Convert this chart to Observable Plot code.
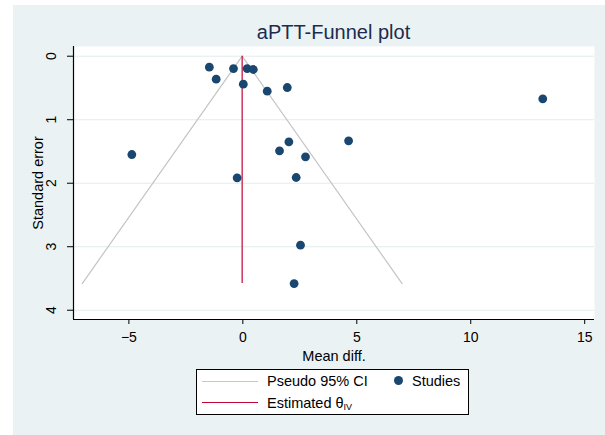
<!DOCTYPE html>
<html><head><meta charset="utf-8">
<script src="https://cdn.jsdelivr.net/npm/d3@7"></script>
<script src="https://cdn.jsdelivr.net/npm/@observablehq/plot@0.6"></script>
<style>
body{margin:0;background:#fff;font-family:"Liberation Sans",Arial,sans-serif;}
#page{position:relative;width:605px;height:435px;overflow:hidden;}
#bg{position:absolute;left:13px;top:5px;right:0;bottom:0;background:#EAF2F3;}
#title{position:relative;height:36px;}
#title span{position:absolute;left:73px;width:521px;text-align:center;top:22px;font-size:20px;line-height:20px;color:#1c2b4f;white-space:nowrap;}
#chart{position:relative;height:325px;}
#legend{position:relative;height:74px;}
.box{position:absolute;left:196px;top:8px;width:271px;height:44px;border:1px solid #000;background:#fff;font-size:14.5px;line-height:16px;color:#000;}
.box .ln{position:absolute;left:5px;width:56px;height:0;}
.box .tx{position:absolute;white-space:nowrap;}
.box .dot{position:absolute;width:9px;height:9px;border-radius:50%;background:#1a476f;}
.box sub{font-size:9px;vertical-align:baseline;position:relative;top:2px;}
</style>
</head><body>
<div id="page">
  <div id="bg"></div>
  <div id="title"><span id="titleText"></span></div>
  <div id="chart"></div>
  <div id="legend"><div class="box">
    <div class="ln" style="top:11px;border-top:1.4px solid #c8c8c8;"></div>
    <div class="tx" id="lg1" style="left:70px;top:3px;"></div>
    <div class="dot" style="left:197px;top:6px;"></div>
    <div class="tx" id="lg2" style="left:215px;top:3px;"></div>
    <div class="ln" style="top:32px;border-top:1.4px solid #c10534;"></div>
    <div class="tx" id="lg3" style="left:70px;top:25px;"></div>
  </div></div>
</div>
<script>
// ---- data ----
const titleText = "aPTT-Funnel plot";
const xLabel = "Mean diff.";
const yLabel = "Standard error";
const legendLabels = ["Pseudo 95% CI", "Studies", "Estimated θ"];
const legendSub = "IV";

const studyMeanDiff = [-1.47, -0.41, 0.19, 0.46, -1.17, 0.02, 1.07, 1.95, 4.64, 2.02, 1.61, 2.75, -4.87, -0.25, 2.34, 2.53, 2.25, 13.16];
const studyStdErr   = [0.173, 0.194, 0.194, 0.209, 0.362, 0.441, 0.551, 0.493, 1.332, 1.348, 1.490, 1.584, 1.548, 1.915, 1.910, 2.976, 3.580, 0.671];

const thetaIV = -0.03;   // estimated pooled effect
const seMax = 3.58;      // funnel depth
const zCrit = 1.96;

const xTicks = [-5, 0, 5, 10, 15];
const yTicks = [0, 1, 2, 3, 4];
const xDomain = [-7.43, 15.43];
const yDomain = [-0.153, 4.146];

// ---- build ----
document.getElementById("titleText").textContent = titleText;
document.getElementById("lg1").textContent = legendLabels[0];
document.getElementById("lg2").textContent = legendLabels[1];
const lg3 = document.getElementById("lg3");
lg3.textContent = legendLabels[2];
const sub = document.createElement("sub"); sub.textContent = legendSub; lg3.appendChild(sub);

const studies = studyMeanDiff.map((md, i) => ({md, se: studyStdErr[i]}));
const funnel = [
  {x: thetaIV - zCrit * seMax, y: seMax},
  {x: thetaIV, y: 0},
  {x: thetaIV + zCrit * seMax, y: seMax}
];

const chart = Plot.plot({
  width: 605, height: 325,
  marginLeft: 73, marginRight: 11, marginTop: 10, marginBottom: 42,
  style: {background: "transparent", fontFamily: "'Liberation Sans', Arial, sans-serif", fontSize: "14px", color: "#000", overflow: "visible"},
  x: {domain: xDomain},
  y: {domain: yDomain, reverse: true},
  marks: [
    Plot.frame({fill: "#fff", stroke: "none"}),
    Plot.ruleY(yTicks, {stroke: "#E3ECEE", strokeWidth: 1}),
    Plot.line(funnel, {x: "x", y: "y", stroke: "#c4c4c4", strokeWidth: 1.2}),
    Plot.ruleX([thetaIV], {y1: 0, y2: seMax, stroke: "#c10534", strokeWidth: 1.2}),
    Plot.dot(studies, {x: "md", y: "se", r: 4.4, fill: "#1a476f", stroke: "none"}),
    Plot.ruleX([xDomain[0]], {stroke: "#000", strokeWidth: 1.2}),
    Plot.ruleY([yDomain[1]], {stroke: "#000", strokeWidth: 1.2}),
    Plot.axisX({ticks: xTicks, tickSize: 5, tickPadding: 8, label: null, fontSize: 14, stroke: "#000"}),
    Plot.axisY({ticks: yTicks, tickSize: 6, tickFormat: () => "", label: null, stroke: "#000"}),
    Plot.text(yTicks, {y: d => d, frameAnchor: "left", textAnchor: "middle", lineAnchor: "middle", dx: -22, rotate: -90, text: d => String(d), fontSize: 14, fill: "#000"}),
    Plot.text([xLabel], {frameAnchor: "bottom", textAnchor: "middle", lineAnchor: "middle", dy: 37, text: d => d, fontSize: 14.5, fill: "#000"}),
    Plot.text([yLabel], {frameAnchor: "left", textAnchor: "middle", lineAnchor: "middle", dx: -35, rotate: -90, text: d => d, fontSize: 14.5, fill: "#000"})
  ]
});
document.getElementById("chart").appendChild(chart);
</script>
</body></html>
